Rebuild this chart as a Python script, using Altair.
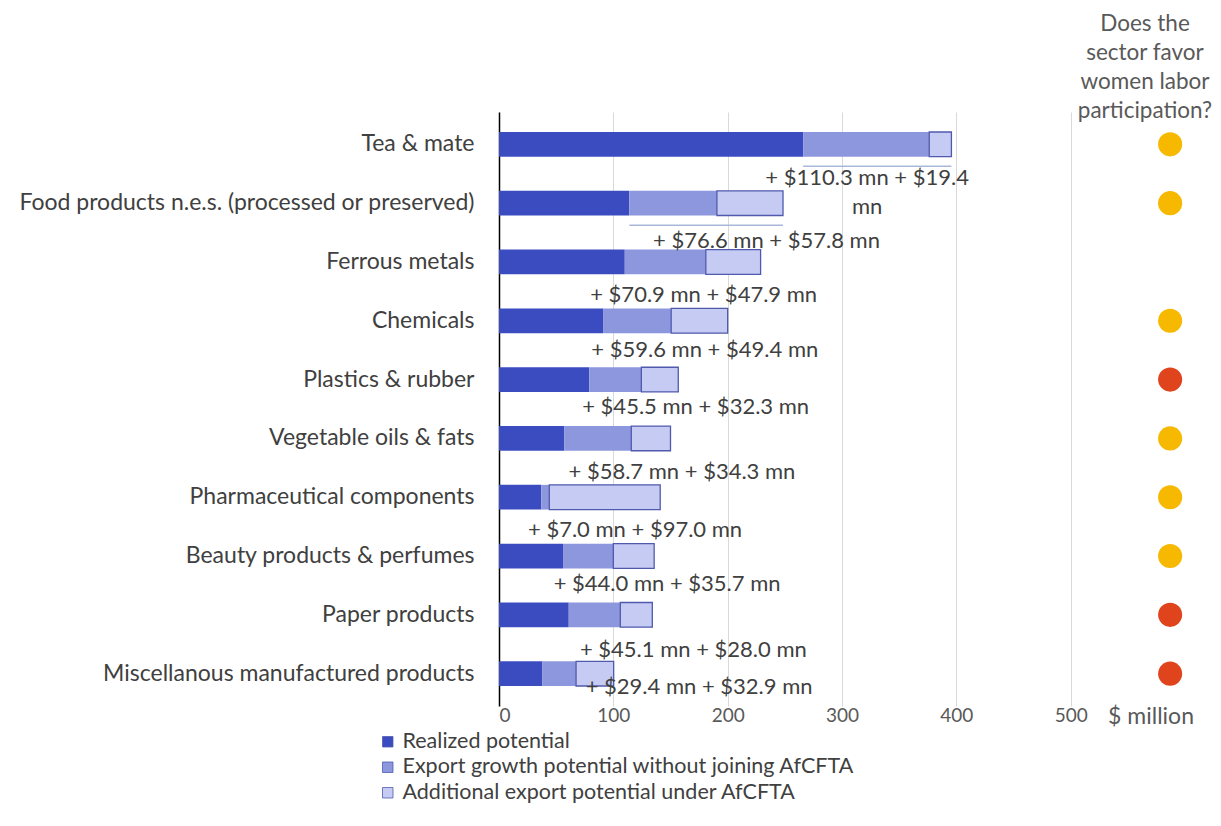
import altair as alt
import pandas as pd

categories = [
    "Tea & mate",
    "Food products n.e.s. (processed or preserved)",
    "Ferrous metals",
    "Chemicals",
    "Plastics & rubber",
    "Vegetable oils & fats",
    "Pharmaceutical components",
    "Beauty products & perfumes",
    "Paper products",
    "Miscellanous manufactured products",
]
realized = [266, 114, 110, 91, 79, 57, 37, 56, 61, 38]
growth = [110.3, 76.6, 70.9, 59.6, 45.5, 58.7, 7.0, 44.0, 45.1, 29.4]
additional = [19.4, 57.8, 47.9, 49.4, 32.3, 34.3, 97.0, 35.7, 28.0, 32.9]
women_favor = ["Yes", "Yes", None, "Yes", "No", "Yes", "Yes", "Yes", "No", "No"]

segments = [
    "Realized potential",
    "Export growth potential without joining AfCFTA",
    "Additional export potential under AfCFTA",
]
seg_colors = ["#3a4cc0", "#8d97de", "#c6cbf3"]

# annotation placement (in $ million along x, pixel offsets below bar)
label_at = [322, 234, 179, 180, 172, 160, 119, 147, 170, 175]
label_dy = [46, 50, 45, 42, 40, 46, 45, 40, 48, 26]
label_wrap = [True] + [False] * 9
bracket = [True, True] + [False] * 8

FONT = "Lato"
TXT = "#404040"

rows = []
for i, c in enumerate(categories):
    s0 = 0
    for seg, v in zip(segments, [realized[i], growth[i], additional[i]]):
        rows.append({"cat": c, "segment": seg, "start": s0, "end": s0 + v,
                     "order": segments.index(seg)})
        s0 += v
bars_df = pd.DataFrame(rows)

lab_rows = []
for i, c in enumerate(categories):
    if label_wrap[i]:
        t = f"+ ${growth[i]:.1f} mn + ${additional[i]:.1f}\nmn"
    else:
        t = f"+ ${growth[i]:.1f} mn + ${additional[i]:.1f} mn"
    lab_rows.append({"cat": c, "text": t, "x": label_at[i], "dy": label_dy[i],
                     "r0": realized[i], "total": realized[i] + growth[i] + additional[i],
                     "bracket": bracket[i], "women": women_favor[i], "dotx": 587})
lab_df = pd.DataFrame(lab_rows)

yscale = alt.Scale(domain=categories, paddingInner=0.58, paddingOuter=0.34)
xscale = alt.Scale(domain=[0, 600], nice=False)

y_enc = alt.Y("cat:N", scale=yscale, sort=categories, title=None,
              axis=alt.Axis(labelFont=FONT, labelFontSize=23, labelColor=TXT,
                            labelPadding=25, labelLimit=0, ticks=False,
                            domain=True, domainColor="#000000", domainWidth=1.5,
                            grid=False))

bars = alt.Chart(bars_df).mark_bar(stroke="#4f5aad").encode(
    x=alt.X("start:Q", scale=xscale, title=None,
            axis=alt.Axis(values=[0, 100, 200, 300, 400, 500], labelFont=FONT,
                          labelFontSize=19, labelColor="#595959", ticks=False,
                          domain=False, grid=True, gridColor="#d9d9d9",
                          labelPadding=0)),
    x2="end:Q",
    y=y_enc,
    color=alt.Color("segment:N", scale=alt.Scale(domain=segments, range=seg_colors),
                    sort=segments,
                    legend=alt.Legend(title=None, orient="none", legendX=-122, legendY=619,
                                      symbolType="square", symbolSize=110,
                                      symbolStrokeColor="#4f5aad", symbolStrokeWidth=0.8,
                                      labelFont=FONT, labelFontSize=21.5, labelColor=TXT,
                                      rowPadding=2.5, labelOffset=4, labelLimit=0)),
    strokeWidth=alt.condition(alt.datum.segment == segments[2], alt.value(1.3), alt.value(0)),
    order="order:Q",
)

brackets = alt.Chart(lab_df).transform_filter(alt.datum.bracket).mark_rule(
    color="#a8b8dc", strokeWidth=1.5, yOffset=22
).encode(x=alt.X("r0:Q", scale=xscale), x2="total:Q", y=alt.Y("cat:N", scale=yscale, sort=categories))

labels = alt.Chart(lab_df).mark_text(
    font=FONT, fontSize=22, color=TXT, lineBreak="\n", lineHeight=29, baseline="middle"
).encode(
    x=alt.X("x:Q", scale=xscale),
    y=alt.Y("cat:N", scale=yscale, sort=categories),
    yOffset=alt.YOffset("dy:Q", scale=None),
    text="text:N",
)

dots = alt.Chart(lab_df).transform_filter(alt.datum.women != None).mark_circle(
    size=580, opacity=1
).encode(
    x=alt.X("dotx:Q", scale=xscale),
    y=alt.Y("cat:N", scale=yscale, sort=categories),
    fill=alt.Fill("women:N", scale=alt.Scale(domain=["Yes", "No"], range=["#f7b800", "#e0441c"]),
                  legend=None),
)

header = alt.Chart(lab_df.head(1)).mark_text(
    font=FONT, fontSize=22.5, color="#595959", lineHeight=29, baseline="top", align="center"
).encode(
    x=alt.value(646), y=alt.value(-99),
    text=alt.value(["Does the", "sector favor", "women labor", "participation?"]),
)

unit = alt.Chart(lab_df.head(1)).mark_text(
    font=FONT, fontSize=23, color="#595959", baseline="middle", align="center"
).encode(x=alt.value(652), y=alt.value(605), text=alt.value("$ million"))

chart = alt.layer(bars, brackets, labels, dots, header, unit).properties(
    width=686, height=594,
    background="white",
    autosize=alt.AutoSizeParams(type="none"),
    padding={"left": 491, "top": 104, "right": 28, "bottom": 108},
).configure_view(strokeWidth=0, stroke="transparent")

chart.save("out.html", embed_options={"renderer": "svg", "actions": False})
